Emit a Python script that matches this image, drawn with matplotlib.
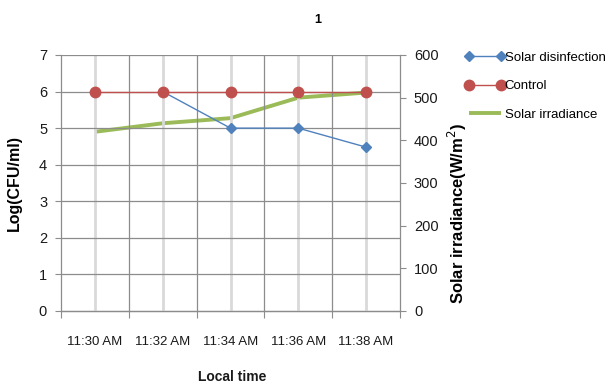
import matplotlib
matplotlib.use("Agg")
import matplotlib.pyplot as plt
import numpy as np

plt.rcParams['font.family'] = ['Liberation Sans', 'DejaVu Sans']

times = ["11:30 AM", "11:32 AM", "11:34 AM", "11:36 AM", "11:38 AM"]
solar_disinfection = [np.nan, 6, 5, 5, 4.48]
control = [6, 6, 6, 6, 6]
solar_irradiance = [420, 440, 452, 500, 512]

fig = plt.figure(figsize=(6.14, 3.85), dpi=100)
ax = fig.add_axes([61/614, 1-311/385, (400-61)/614, (311-55)/385])
x = np.arange(len(times))

ax.set_xlim(-0.5, len(times) - 0.5)
ax.set_ylim(0, 7)
ax.set_yticks(range(0, 8))

# grid lines
for xi in x:
    ax.axvline(xi, color='#d9d9d9', lw=2.0, zorder=0)
for b in np.arange(0.5, len(times) - 0.5, 1):
    ax.axvline(b, color='#8c8c8c', lw=0.9, zorder=0)
for yv in range(1, 8):
    ax.axhline(yv, color='#8c8c8c', lw=0.9, zorder=0)

ax2 = ax.twinx()
ax2.set_ylim(0, 600)
ax2.set_yticks(range(0, 700, 100))

l1, = ax.plot(x, solar_disinfection, color='#4F81BD', lw=1.0, marker='D', ms=5,
              label='Solar disinfection', zorder=3)
l2, = ax.plot(x, control, color='#C0504D', lw=1.0, marker='o', ms=7.5,
              label='Control', zorder=3)
l3, = ax2.plot(x, solar_irradiance, color='#9BBB59', lw=2.8,
               label='Solar irradiance', zorder=4, solid_capstyle='butt')
ax.set_zorder(ax2.get_zorder() + 1)
ax.patch.set_visible(False)

ax.set_xticks(np.arange(-0.5, len(times), 1), minor=False)
ax.set_xticklabels([])
ax.set_xticks(x, minor=True)
ax.set_xticklabels(times, minor=True)
ax.tick_params(axis='x', which='minor', length=0, pad=18, labelsize=9.5, colors='#1a1a1a')
ax.tick_params(axis='x', which='major', length=5, color='#8c8c8c', direction='out')
ax.tick_params(axis='y', length=4, color='#8c8c8c', labelsize=10.5, labelcolor='#1a1a1a', pad=6)
ax2.tick_params(axis='y', length=4, color='#8c8c8c', labelsize=10.5, labelcolor='#1a1a1a', pad=6)

for a in (ax, ax2):
    for s in a.spines.values():
        s.set_color('#8c8c8c')
        s.set_linewidth(0.9)
    a.spines['top'].set_visible(False)
ax2.spines['left'].set_visible(False)
ax.spines['right'].set_visible(False)

ax.set_ylabel('Log(CFU/ml)', fontsize=11.5, fontweight='bold')
ax.yaxis.set_label_coords((22 - 61) / 339, (311 - 183) / 256)
ax2.set_ylabel('Solar irradiance(W/m$^{2}$)', fontsize=12, fontweight='bold')
ax2.yaxis.set_label_coords((446 - 61) / 339, (311 - 213) / 256)
fig.text(232/614, 1-377/385, 'Local time', fontsize=10, fontweight='bold',
         ha='center', va='center', color='#1a1a1a')

fig.text(318/614, 1-20/385, '1', fontsize=9, fontweight='bold', ha='center', va='center')

leg = fig.legend(handles=[l1, l2, l3], loc='upper left', bbox_to_anchor=(460/614, 1-46/385),
                 frameon=False, fontsize=9.5, handlelength=3.0, handletextpad=0.0,
                 labelspacing=1.25, borderaxespad=0, numpoints=2)

fig.savefig('out.png', dpi=100)
